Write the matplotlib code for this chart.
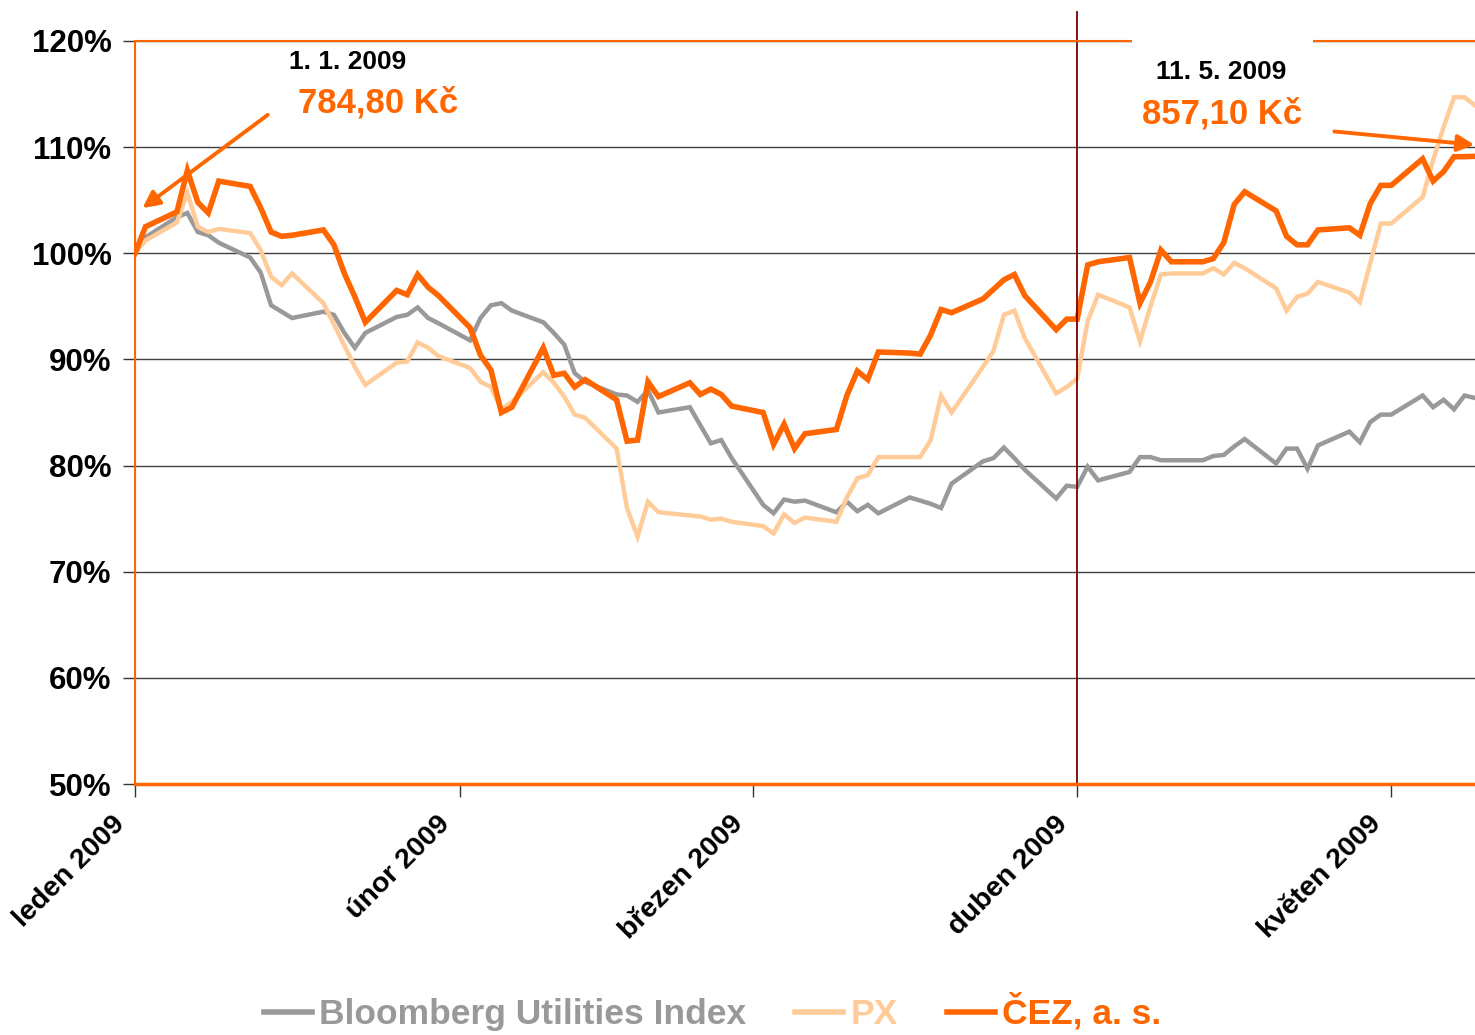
import numpy as np
import matplotlib
matplotlib.use('Agg')
import matplotlib.pyplot as plt
import matplotlib.dates as mdates
import matplotlib.transforms as mtransforms
from matplotlib.patches import Rectangle

plt.rcParams['font.family'] = ['Liberation Sans', 'DejaVu Sans']
plt.rcParams['font.weight'] = 'bold'

# trading days, counted from 1. 1. 2009
day_offset = [0, 1, 4, 5, 6, 7, 8, 11, 12, 13, 14, 15, 18, 19, 20, 21, 22,
              25, 26, 27, 28, 29, 32, 33, 34, 35, 36, 39, 40, 41, 42, 43,
              46, 47, 48, 49, 50, 53, 54, 55, 56, 57, 60, 61, 62, 63, 64,
              67, 68, 69, 70, 71, 74, 75, 76, 77, 78, 81, 82, 83, 84, 85,
              88, 89, 90, 91, 92, 95, 96, 97, 98, 99, 102, 103, 104, 105, 106,
              109, 110, 111, 112, 113, 116, 117, 118, 119, 120,
              123, 124, 125, 126, 127, 130]

# values in % of 1. 1. 2009
bloomberg = [100.0, 101.5, 103.4, 103.8, 102.0, 101.7, 101.0, 99.6, 98.2, 95.1, 94.5, 93.9,
             94.5, 94.2, 92.5, 91.1, 92.5, 94.0, 94.2, 94.9, 93.9, 93.4, 91.8, 93.9, 95.1,
             95.3, 94.6, 93.5, 92.5, 91.4, 88.7, 87.9, 86.7, 86.6, 86.0, 87.1, 85.0, 85.5,
             83.8, 82.1, 82.4, 80.7, 76.3, 75.5, 76.8, 76.6, 76.7, 75.6, 76.6, 75.7, 76.3,
             75.5, 77.0, 76.7, 76.4, 76.0, 78.3, 80.4, 80.7, 81.7, 80.7, 79.6, 76.9, 78.1,
             78.0, 79.9, 78.6, 79.4, 80.8, 80.8, 80.5, 80.5, 80.5, 80.9, 81.0, 81.8, 82.5,
             80.2, 81.6, 81.6, 79.7, 81.9, 83.2, 82.2, 84.1, 84.8, 84.8, 86.6, 85.5, 86.2,
             85.3, 86.6, 85.9]
px = [100.0, 101.2, 102.9, 105.7, 102.5, 102.0, 102.3, 101.9, 100.3, 97.8, 97.0, 98.1,
      95.3, 93.3, 91.3, 89.3, 87.6, 89.7, 89.8, 91.6, 91.1, 90.3, 89.2, 87.9, 87.4,
      85.3, 86.0, 88.8, 87.8, 86.5, 84.8, 84.5, 81.6, 76.0, 73.3, 76.6, 75.6, 75.3,
      75.2, 74.9, 75.0, 74.7, 74.3, 73.6, 75.4, 74.6, 75.1, 74.7, 77.0, 78.8, 79.1,
      80.8, 80.8, 80.8, 82.4, 86.6, 85.0, 89.3, 90.8, 94.2, 94.6, 92.0, 86.8, 87.4,
      88.2, 93.6, 96.1, 94.9, 91.7, 95.0, 98.0, 98.1, 98.1, 98.6, 98.0, 99.1, 98.6,
      96.7, 94.6, 95.9, 96.2, 97.3, 96.3, 95.4, 99.1, 102.8, 102.8, 105.3, 108.8, 111.9,
      114.7, 114.7, 112.4]
cez = [100.0, 102.5, 103.9, 107.8, 104.8, 103.8, 106.8, 106.3, 104.3, 102.0, 101.6, 101.7,
       102.2, 100.8, 98.1, 95.9, 93.5, 96.5, 96.1, 98.0, 96.8, 96.0, 93.0, 90.4, 89.0,
       85.0, 85.5, 91.1, 88.5, 88.7, 87.4, 88.1, 86.2, 82.3, 82.4, 87.9, 86.5, 87.8,
       86.7, 87.2, 86.7, 85.6, 85.0, 82.0, 83.9, 81.6, 83.0, 83.4, 86.6, 88.9, 88.1,
       90.7, 90.6, 90.5, 92.3, 94.7, 94.4, 95.7, 96.6, 97.5, 98.0, 96.0, 92.8, 93.8,
       93.8, 98.9, 99.2, 99.6, 95.3, 97.3, 100.3, 99.2, 99.2, 99.5, 101.0, 104.6, 105.8,
       104.0, 101.6, 100.8, 100.8, 102.2, 102.4, 101.7, 104.7, 106.4, 106.4, 108.9, 106.8, 107.7,
       109.1, 109.1, 109.2]

month_labels = ['leden 2009', 'únor 2009', 'březen 2009', 'duben 2009', 'květen 2009']
series_names = ['Bloomberg Utilities Index', 'PX', 'ČEZ, a. s.']

ORANGE = '#FF6600'
base = np.datetime64('2009-01-01')
dates = base + np.array(day_offset).astype('timedelta64[D]')
x0 = mdates.date2num(base)

fig = plt.figure(figsize=(14.75, 10.35), dpi=100)
ax = fig.add_axes([135 / 1475, 1 - 784 / 1035, 1 - 135 / 1475, (784 - 41) / 1035])

l1, = ax.plot(dates, bloomberg, color='#999999', lw=3.2, solid_joinstyle='miter')
l2, = ax.plot(dates, px, color='#FFCC99', lw=3.2, solid_joinstyle='miter')
l3, = ax.plot(dates, cez, color=ORANGE, lw=4.0, solid_joinstyle='miter')

ax.set_xlim(x0, x0 + 128)
ax.set_ylim(50, 120)
ax.set_yticks(np.arange(50, 121, 10))
ax.set_yticklabels([f'{v}%' for v in range(50, 121, 10)])
ax.yaxis.grid(True, color='#404040', lw=1)
ax.set_axisbelow(True)

month_starts = [mdates.date2num(np.datetime64(f'2009-0{m}-01')) for m in range(1, 6)]
ax.set_xticks(month_starts)
ax.set_xticklabels([])
# month labels drawn as rotated texts hanging left of each tick
shift = mtransforms.ScaledTranslation(-0.23, -0.27, fig.dpi_scale_trans)
lab_trans = ax.get_xaxis_transform() + shift
for ms, lab in zip(month_starts, month_labels):
    ax.text(ms, 0, lab, transform=lab_trans, fontsize=20.5, rotation=45,
            ha='right', va='top', rotation_mode='anchor', clip_on=False)

ax.tick_params(axis='y', direction='out', length=9, width=1, color='#333333',
               labelsize=22.5, pad=8)
ax.tick_params(axis='x', direction='out', length=9, width=1, color='#333333')

ax.spines['right'].set_visible(False)
ax.spines['left'].set_color(ORANGE)
ax.spines['left'].set_linewidth(1.5)
ax.spines['top'].set_color(ORANGE)
ax.spines['top'].set_linewidth(1.5)
ax.spines['bottom'].set_color(ORANGE)
ax.spines['bottom'].set_linewidth(2.5)

# start of April marker
ax.axvline(mdates.date2num(np.datetime64('2009-04-01')), ymin=0, ymax=1.039,
           color='#7B0000', lw=1.3, clip_on=False, zorder=2.2)

# white box behind the second note
ax.add_patch(Rectangle((1132 / 1475, 1 - 140 / 1035), 181 / 1475, 104 / 1035,
                       transform=fig.transFigure, facecolor='white', edgecolor='none',
                       clip_on=False, zorder=2.6))

# notes
ax.text(x0 + 20.3, 118.0, '1. 1. 2009', fontsize=19, color='black', ha='center', va='center')
ax.text(x0 + 23.2, 114.2, '784,80 Kč', fontsize=25, color=ORANGE, ha='center', va='center')
ax.annotate('', xy=(x0 + 0.5, 104.1), xytext=(x0 + 12.9, 113.2),
            arrowprops=dict(arrowstyle='-|>', color=ORANGE, lw=2.8, mutation_scale=25))
ax.text(x0 + 103.8, 117.1, '11. 5. 2009', fontsize=19, color='black', ha='center', va='center',
        zorder=3)
ax.text(x0 + 103.8, 113.1, '857,10 Kč', fontsize=25, color=ORANGE, ha='center', va='center',
        zorder=3)
ax.annotate('', xy=(x0 + 128.2, 110.2), xytext=(x0 + 114.3, 111.5),
            arrowprops=dict(arrowstyle='-|>', color=ORANGE, lw=2.8, mutation_scale=25),
            annotation_clip=False)

leg = fig.legend([l1, l2, l3], series_names, loc='center', bbox_to_anchor=(0.483, 0.022),
                 ncol=3, frameon=False, prop={'size': 25.5, 'weight': 'bold'},
                 labelcolor='linecolor', handlelength=1.35, handletextpad=0.2,
                 columnspacing=1.4)
for h in leg.legend_handles:
    h.set_linewidth(4)

fig.savefig('out.png', dpi=100)
